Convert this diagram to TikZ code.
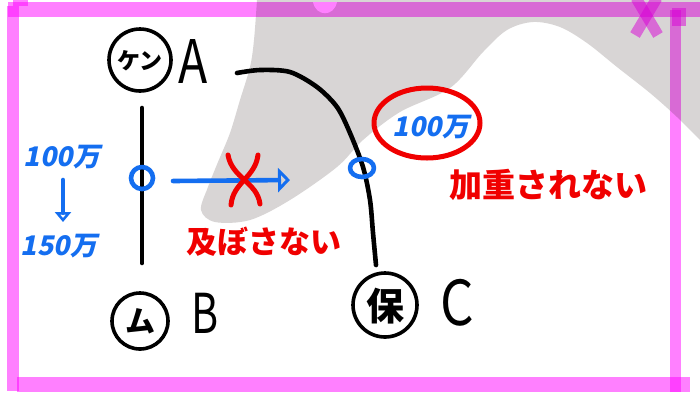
\documentclass[tikz,border=0pt]{standalone}
\usepackage{fontspec}
\usepackage{graphicx}
\setmainfont{Noto Sans CJK JP}
\newfontfamily\slantjp[FakeSlant=0.2]{Noto Sans CJK JP}
\usetikzlibrary{arrows.meta,shapes.geometric}
\definecolor{bggray}{RGB}{216,213,213}
\definecolor{pinkc}{RGB}{255,128,255}
\definecolor{penblue}{RGB}{20,110,240}
\definecolor{penred}{RGB}{240,0,0}
\begin{document}
\begin{tikzpicture}[x=1pt,y=-1pt,
  ink/.style={line width=4.6pt, line cap=round, line join=round},
  blueink/.style={ink, draw=penblue},
  redink/.style={line width=5pt, line cap=round, line join=round, draw=penred},
  ring/.style={circle, draw, line width=3.6pt, inner sep=0pt},
  jp/.style={inner sep=0pt, font=\bfseries\fontsize{#1}{#1}\selectfont},
  num/.style={inner sep=0pt, font=\slantjp\bfseries\fontsize{#1}{#1}\selectfont},
  letter/.style={inner sep=0pt, font=\fontsize{#1}{#1}\selectfont}]
\useasboundingbox (0,0) rectangle (700,392);
\fill[white] (0,0) rectangle (700,392);
% grey background shape
\fill[bggray] (700,0) -- plot[smooth, tension=0.55] coordinates {(257,0) (254,40) (250,67) (240,100) (230,133) (218,162) (208,187) (201,210) (215,222) (250,220) (290,200) (337,167) (363,140) (400,112) (450,88) (483,52) (507,30) (533,22) (560,27) (587,43) (617,67) (650,93) (677,117) (700,140)} -- cycle;
\fill[white] (313,2) .. controls (316,17) and (334,17) .. (337,2) -- cycle;

% circled labels and letters
\node[ring, minimum size=62pt] (kenring) at (140,60) {};
\node[jp=23] (ken) at (140,61) {ケン};
\node[letter=60] (A) at (193,62) {\scalebox{0.8}[1]{A}};
\node[ring, minimum size=56pt] (muring) at (140,321) {};
\node[jp=30] (mu) at (140,321) {ム};
\node[letter=55] (B) at (205,313) {\scalebox{0.75}[1]{B}};
\node[ring, minimum size=64pt] (horing) at (385,305) {};
\node[jp=38] (ho) at (385,306) {保};
\node[letter=62] (C) at (457,303) {\scalebox{0.85}[1]{C}};

% vertical line A-B
\coordinate (vtop) at (142,108);
\coordinate (vbot) at (142,263);
\draw[ink] (vtop) -- (vbot);
% arc A-C
\coordinate (arcS) at (237,73);
\coordinate (arcE) at (376,265);
\draw[ink] plot[smooth] coordinates {(237,73) (260,70) (290,72) (317,87) (337,107) (350,133) (363,167) (370,200) (373,233) (376,265)};

% blue points
\node[circle, blueink, minimum size=22pt, inner sep=0pt] (pA) at (142,178) {};
\node[ellipse, blueink, minimum width=24pt, minimum height=18pt, inner sep=0pt] (pC) at (362,168) {};

% blue arrow with red cross
\coordinate (arS) at (173,181);
\coordinate (arE) at (290,180);
\draw[blueink, -{Triangle[open, length=12pt, width=24pt]}] (arS) -- (arE);
\coordinate (xa1) at (228,155);
\coordinate (xa2) at (260,204);
\coordinate (xb1) at (258,155);
\coordinate (xb2) at (231,205);
\draw[redink] (xa1) .. controls (232,178) and (257,182) .. (xa2);
\draw[redink] (xb1) .. controls (255,178) and (233,182) .. (xb2);
\node[jp=31, text=penred] (oyobosanai) at (264,242) {及ぼさない};

% left amounts
\node[num=27, text=penblue] (amt1) at (62,157) {100万};
\coordinate (dA) at (63,180);
\coordinate (dB) at (63,222);
\draw[blueink, -{Triangle[open, length=10pt, width=16pt]}] (dA) -- (dB);
\node[num=27, text=penblue] (amt2) at (59,246) {150万};

% right amount
\node[ellipse, redink, minimum width=106pt, minimum height=70pt, inner sep=0pt] (oval) at (427,123) {};
\node[num=27, text=penblue] (amt3) at (431,127) {100万};
\node[jp=33, text=penred] (kaju) at (548,185) {加重されない};

% pink frame
\begin{scope}[blend mode=multiply]
\fill[pinkc] (8,2) rectangle (700,17);
\fill[pinkc] (7,6) rectangle (19,391);
\fill[pinkc] (13,0) rectangle (28,6);
\fill[pinkc] (17,377) rectangle (690,392);
\fill[pinkc] (670,10) rectangle (681,392);
\fill[pinkc] (672,8) rectangle (686,26);
\draw[pinkc, line width=11pt] (636,-2) -- (658,35);
\draw[pinkc, line width=11pt] (657,-2) -- (635,35);
\end{scope}
\end{tikzpicture}
\end{document}
